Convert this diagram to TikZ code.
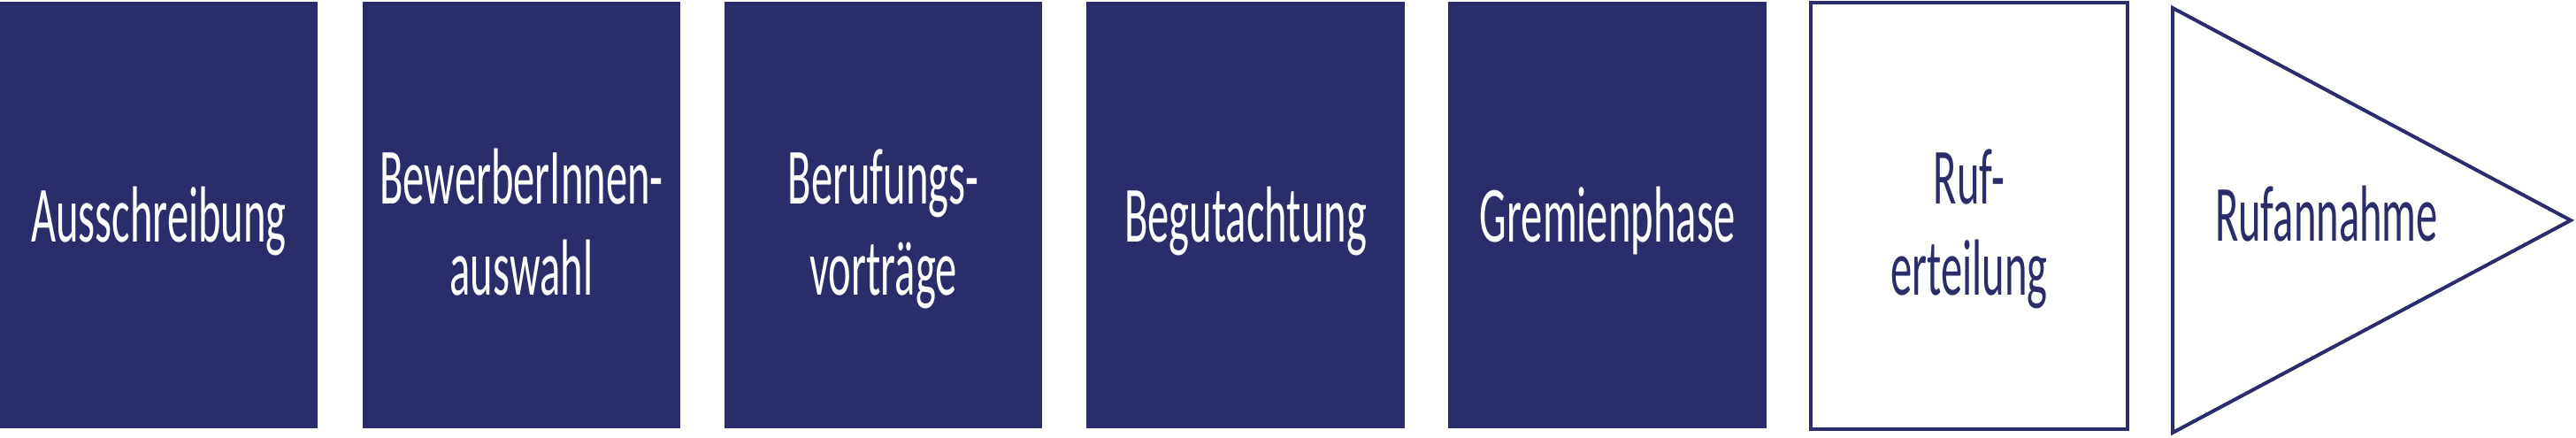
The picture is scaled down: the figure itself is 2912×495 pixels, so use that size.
\documentclass[tikz,border=0pt]{standalone}
\usepackage{fontspec}
\setmainfont{Carlito}[FakeStretch=0.54]
\definecolor{navy}{RGB}{43,44,106}
\begin{document}
\begin{tikzpicture}[x=1pt,y=-1pt,
  fillbox/.style={fill=navy,draw=none},
  linebox/.style={draw=navy,line width=4pt,fill=white,line join=miter},
  lbl/.style={inner sep=0pt,anchor=base,font=\fontsize{90}{103}\selectfont},
  wlbl/.style={lbl,text=white},
  nlbl/.style={lbl,text=navy}]
\useasboundingbox (0,0) rectangle (2912,495);
% filled boxes
\path[fillbox] (0,2) rectangle (359,484);
\path[fillbox] (410,2) rectangle (769,484);
\path[fillbox] (819,2) rectangle (1178,484);
\path[fillbox] (1228,2) rectangle (1588,484);
\path[fillbox] (1637,2) rectangle (1997,484);
% outlined box
\draw[linebox] (2047,3) rectangle (2405,485);
% triangle
\draw[linebox] (2456,9) -- (2906,249) -- (2456,489) -- cycle;
% labels
\node[wlbl] (t1) at (179.5,273) {Ausschreibung};
\node[wlbl] (t2a) at (589.5,230) {BewerberInnen-};
\node[wlbl] (t2b) at (589.5,333) {auswahl};
\node[wlbl] (t3a) at (998.5,230) {Berufungs-};
\node[wlbl] (t3b) at (998.5,333) {vorträge};
\node[wlbl] (t4) at (1408,273) {Begutachtung};
\node[wlbl] (t5) at (1817,273) {Gremienphase};
\node[nlbl] (t6a) at (2226,230) {Ruf-};
\node[nlbl] (t6b) at (2226,333) {erteilung};
\node[nlbl] (t7) at (2630,272) {Rufannahme};
\end{tikzpicture}
\end{document}
